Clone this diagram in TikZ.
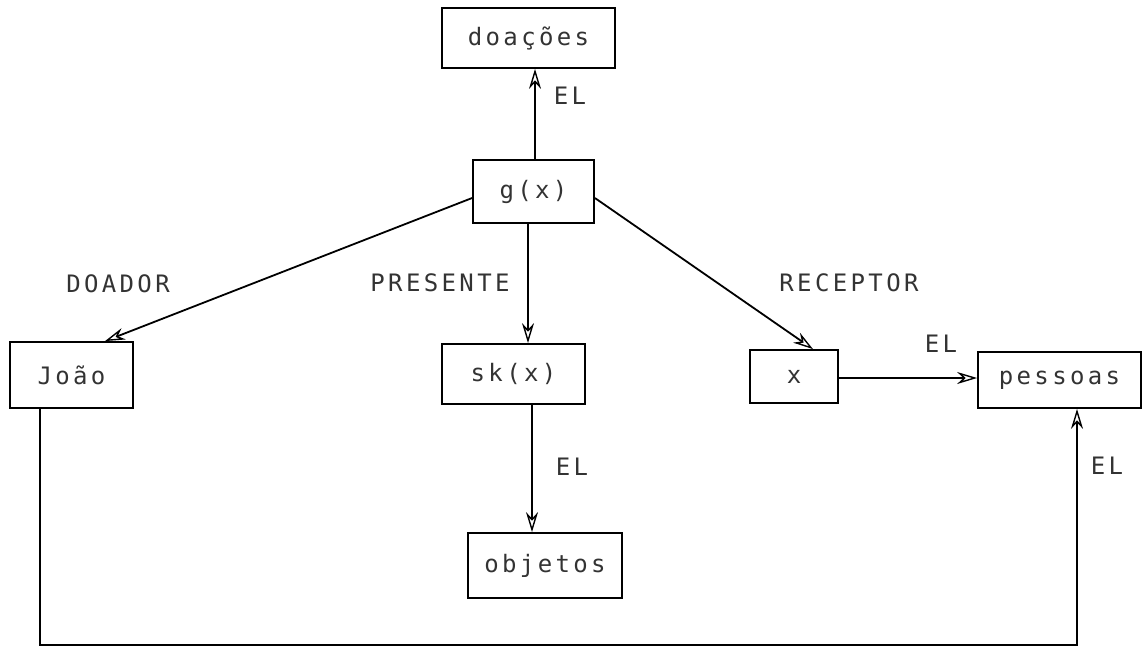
\documentclass[tikz,border=0pt]{standalone}
\usepackage{fontspec}
\setmonofont{DejaVu Sans Mono}[LetterSpace=14]
\usetikzlibrary{arrows.meta}
\newcommand\dotfont{\fontsize{24}{28}\selectfont\ttfamily}
\begin{document}
\begin{tikzpicture}[x=1pt,y=-1pt,
  box/.style={draw, line width=1.8pt, inner sep=0pt, font=\dotfont, text=black!80},
  lbl/.style={inner sep=0pt, font=\dotfont, text=black!80},
  arr/.style={line width=1.8pt, -{Stealth[open,length=20pt,width=12pt,line width=1.4pt]}}]
\useasboundingbox (0,0) rectangle (1142,651);
% concept boxes
\node[box, minimum width=173pt, minimum height=60pt] (doa) at (528.5,38) {doações};
\node[box, minimum width=121pt, minimum height=63pt] (gx) at (533.5,191.5) {g(x)};
\node[box, minimum width=123pt, minimum height=66pt] (jo) at (71.5,375) {João};
\node[box, minimum width=143pt, minimum height=60pt] (sk) at (513.5,374) {sk(x)};
\node[box, minimum width=88pt, minimum height=53pt] (xb) at (794,376.5) {x};
\node[box, minimum width=163pt, minimum height=56pt] (pes) at (1059.5,380) {pessoas};
\node[box, minimum width=154pt, minimum height=65pt] (ob) at (545,565.5) {objetos};
% relation labels
\node[lbl] (l1) at (570,96) {EL};
\node[lbl] (l2) at (118,284) {DOADOR};
\node[lbl] (l3) at (440,283) {PRESENTE};
\node[lbl] (l4) at (849,283) {RECEPTOR};
\node[lbl] (l5) at (941,344) {EL};
\node[lbl] (l6) at (572,467) {EL};
\node[lbl] (l7) at (1107,466) {EL};
% corners of the return line
\coordinate (bl) at (40,645);
\coordinate (br) at (1077,645);
% connectors
\draw[arr] ([xshift=1.5pt]gx.north) -- ([xshift=6.5pt]doa.south);
\draw[arr] ([yshift=-6.5pt]gx.west) -- ([xshift=33.5pt]jo.north);
\draw[arr] ([yshift=-6.5pt]gx.east) -- ([xshift=19pt]xb.north);
\draw[arr] ([xshift=-5.5pt]gx.south) -- ([xshift=14.5pt]sk.north);
\draw[arr] ([xshift=18.5pt]sk.south) -- ([xshift=-13pt]ob.north);
\draw[arr] ([yshift=-1.5pt]xb.east) -- ([yshift=-1.5pt]xb.east -| pes.west);
\draw[arr] (jo.south -| bl) -- (bl) -- (br) -- (pes.south -| br);
\end{tikzpicture}
\end{document}
